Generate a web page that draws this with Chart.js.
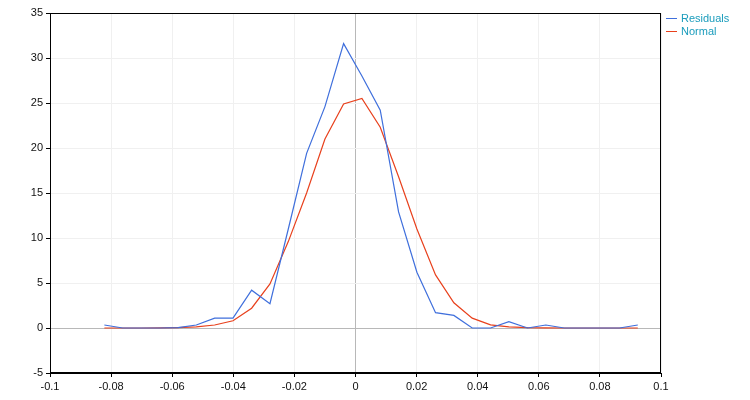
<!DOCTYPE html>
<html>
<head>
<meta charset="utf-8">
<script src="https://cdn.jsdelivr.net/npm/chart.js@4"></script>
<style>
  html, body { margin: 0; padding: 0; background: #fff; }
  #wrap { position: relative; width: 750px; height: 400px; }
  #legend { position: absolute; left: 666px; top: 12px; font: 11px "Liberation Sans", Arial, sans-serif; color: #1a9cbc; line-height: 13px; }
  #legend div { white-space: nowrap; }
  #legend span { display: inline-block; width: 11px; height: 1px; vertical-align: middle; margin-right: 4px; position: relative; top: -1px; }
</style>
</head>
<body>
<div id="wrap">
  <canvas id="histChart" width="750" height="400"></canvas>
  <div id="legend">
    <div><span style="background:#3f6fdc"></span>Residuals</div>
    <div><span style="background:#e8401c"></span>Normal</div>
  </div>
</div>
<script>
// bin centres (x)
const binCentres = [-0.0822, -0.0762, -0.0702, -0.0641, -0.0581, -0.0521, -0.0461, -0.0401, -0.0340, -0.0280,
  -0.0220, -0.0160, -0.0100, -0.0039, 0.0021, 0.0081, 0.0141, 0.0201, 0.0262, 0.0322,
  0.0382, 0.0442, 0.0502, 0.0563, 0.0623, 0.0683, 0.0743, 0.0803, 0.0864, 0.0924];

const residuals = [0.33, 0, 0, 0, 0.05, 0.33, 1.1, 1.1, 4.2, 2.7,
  11.0, 19.4, 24.6, 31.6, 28.0, 24.2, 12.9, 6.2, 1.7, 1.4,
  0, 0, 0.7, 0, 0.33, 0, 0, 0, 0, 0.33];

const normal = [0, 0, 0, 0.02, 0.05, 0.12, 0.33, 0.8, 2.2, 4.9,
  9.6, 15.0, 21.0, 24.9, 25.5, 22.3, 16.8, 11.0, 5.9, 2.8,
  1.1, 0.35, 0.12, 0.04, 0.01, 0, 0, 0, 0, 0];

const xTicks = { min: -0.1, max: 0.1, step: 0.02 };
const yTicks = { min: -5, max: 35, step: 5 };

const toPoints = vals => vals.map((v, i) => ({ x: binCentres[i], y: v }));

// box around the plot area (top and right edges)
const frame = {
  id: 'frame',
  afterDraw(chart) {
    const a = chart.chartArea;
    const ctx = chart.ctx;
    ctx.save();
    ctx.strokeStyle = '#000';
    ctx.lineWidth = 1;
    ctx.strokeRect(Math.round(a.left) + 0.5, Math.round(a.top) + 0.5,
      Math.round(a.right - a.left) - 1, Math.round(a.bottom - a.top) - 1);
    ctx.restore();
  }
};

const gridColor = ctx => ctx.tick && ctx.tick.value === 0 ? '#b8b8b8' : '#f0f0f0';

new Chart(
  document.getElementById('histChart'),
  {
    type: 'scatter',

    data: {
      datasets: [{
        label: 'Residuals',
        data: toPoints(residuals),
        showLine: true,
        borderColor: '#3f6fdc',
        borderWidth: 1.2,
        pointRadius: 0,
        tension: 0
      }, {
        label: 'Normal',
        data: toPoints(normal),
        showLine: true,
        borderColor: '#e8401c',
        borderWidth: 1.2,
        pointRadius: 0,
        tension: 0
      }]
    },

    options: {
      responsive: false,
      animation: false,
      layout: { padding: { top: 13, right: 89, left: 0, bottom: 0 } },
      plugins: {
        legend: { display: false },
        tooltip: { enabled: false }
      },
      scales: {
        x: {
          type: 'linear',
          min: xTicks.min,
          max: xTicks.max,
          afterFit: axis => { axis.height = 27; },
          ticks: {
            stepSize: xTicks.step,
            color: '#111',
            font: { family: 'Liberation Sans', size: 11 },
            padding: 3,
            maxRotation: 0,
            callback: v => String(+v.toFixed(2))
          },
          grid: { color: gridColor, tickColor: '#000', tickLength: 4 },
          border: { color: '#000', width: 1 }
        },
        y: {
          min: yTicks.min,
          max: yTicks.max,
          afterFit: axis => { axis.width = 50; },
          ticks: {
            stepSize: yTicks.step,
            color: '#111',
            font: { family: 'Liberation Sans', size: 11 },
            padding: 3
          },
          grid: { color: gridColor, tickColor: '#000', tickLength: 4 },
          border: { color: '#000', width: 1 }
        }
      }
    },

    plugins: [frame]
  }
);
</script>
</body>
</html>
